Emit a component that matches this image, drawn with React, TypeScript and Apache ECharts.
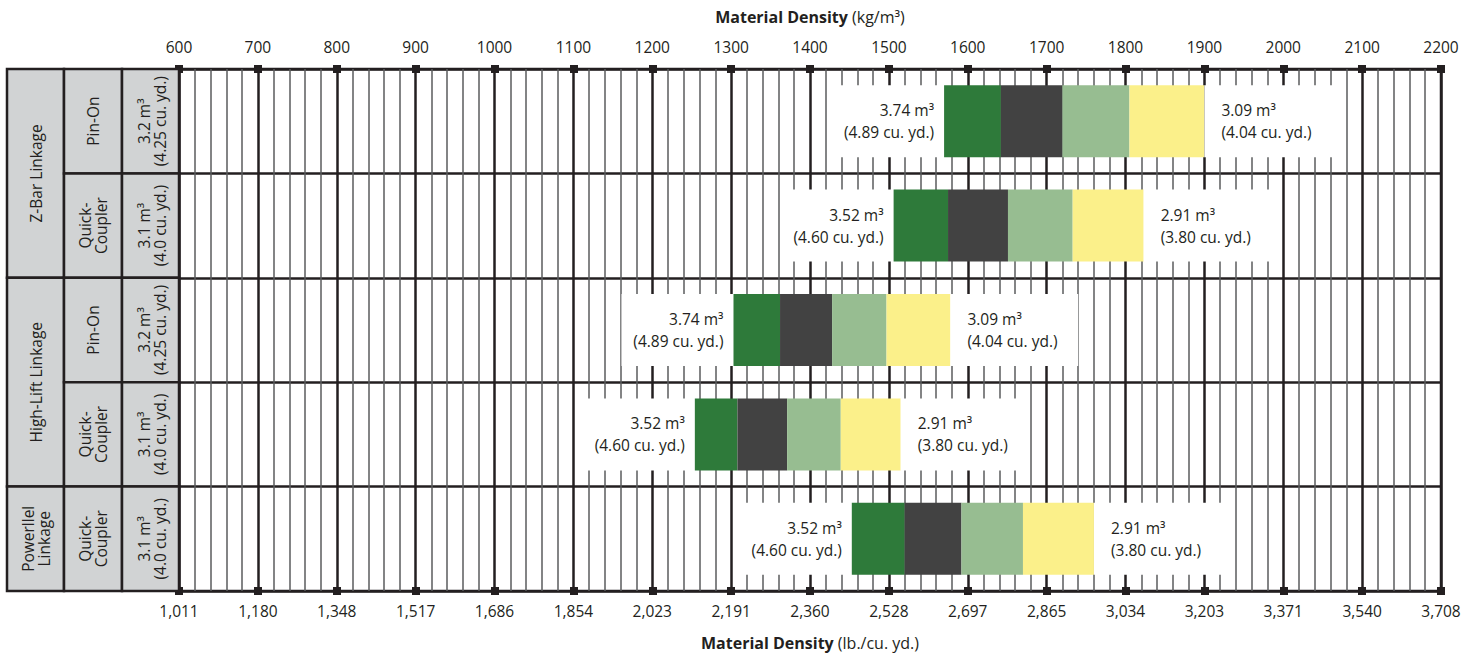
import React, { useEffect, useRef } from "react";
import * as echarts from "echarts";

// ---- data ----
const rowKeys = [
  "Z-Bar Pin-On",
  "Z-Bar Quick-Coupler",
  "High-Lift Pin-On",
  "High-Lift Quick-Coupler",
  "Powerllel Quick-Coupler",
];
const groupLabels = ["Z-Bar Linkage", "High-Lift Linkage", "Powerllel\nLinkage"];
const groupSpans = [2, 2, 1];
const typeLabels = ["Pin-On", "Quick-\nCoupler", "Pin-On", "Quick-\nCoupler", "Quick-\nCoupler"];
const capacityLabels = [
  "3.2 m³\n(4.25 cu. yd.)",
  "3.1 m³\n(4.0 cu. yd.)",
  "3.2 m³\n(4.25 cu. yd.)",
  "3.1 m³\n(4.0 cu. yd.)",
  "3.1 m³\n(4.0 cu. yd.)",
];

// density boundaries (kg/m³)
const startKg = [1570, 1506, 1303, 1254, 1453];
const darkGreenEnd = [1642, 1575, 1362, 1308, 1520];
const grayEnd = [1720, 1651, 1428, 1371, 1592];
const lightGreenEnd = [1805, 1733, 1497, 1439, 1670];
const yellowEnd = [1900, 1823, 1578, 1515, 1760];

const leftVol = ["3.74", "3.52", "3.74", "3.52", "3.52"];
const leftYd = ["4.89", "4.60", "4.89", "4.60", "4.60"];
const rightVol = ["3.09", "2.91", "3.09", "2.91", "2.91"];
const rightYd = ["4.04", "3.80", "4.04", "3.80", "3.80"];

const kgMin = 600;
const kgMax = 2200;
const kgLabels = [
  "600", "700", "800", "900", "1000", "1100", "1200", "1300", "1400",
  "1500", "1600", "1700", "1800", "1900", "2000", "2100", "2200",
];
const lbLabels = [
  "1,011", "1,180", "1,348", "1,517", "1,686", "1,854", "2,023", "2,191", "2,360",
  "2,528", "2,697", "2,865", "3,034", "3,203", "3,371", "3,540", "3,708",
];

const segColors = ["#2e7a3a", "#424242", "#97bd91", "#fbf08a"];

// label box widths (kg/m³ units)
const padLeft = 142;
const padRight = 162;

const FONT = "'Open Sans', 'Noto Sans', sans-serif";
const INK = "#231f20";

export default function App() {
  const ref = useRef<HTMLDivElement>(null);
  useEffect(() => {
    document.body.style.margin = "0";
    const chart = echarts.init(ref.current!, undefined, { renderer: "svg" });
    const H = 660;
    const gLeft = 179, gRight = 33, gTop = 69, gBottom = 69;
    const gH = H - gTop - gBottom;
    const rowH = gH / rowKeys.length;
    const tableLeft = 7;
    const col1 = 64, col2 = 122;

    const base = startKg.map((s) => s - padLeft);
    const segs = [
      startKg.map((s, i) => darkGreenEnd[i] - s),
      darkGreenEnd.map((s, i) => grayEnd[i] - s),
      grayEnd.map((s, i) => lightGreenEnd[i] - s),
      lightGreenEnd.map((s, i) => yellowEnd[i] - s),
    ];

    const labelStyle = {
      color: INK,
      fontSize: 15.5,
      lineHeight: 22,
      fontFamily: FONT,
    };

    const series: any[] = [
      {
        type: "bar",
        stack: "s",
        barWidth: 72,
        silent: true,
        itemStyle: { color: "rgba(0,0,0,0)" },
        data: base,
      },
      {
        type: "bar",
        stack: "s",
        barWidth: 72,
        silent: true,
        itemStyle: { color: "#ffffff" },
        data: rowKeys.map(() => padLeft),
        label: {
          show: true,
          position: "insideRight",
          distance: 10,
          align: "right",
          ...labelStyle,
          formatter: (p: any) => `${leftVol[p.dataIndex]} m³\n(${leftYd[p.dataIndex]} cu. yd.)`,
        },
      },
      ...segs.map((d, k) => ({
        type: "bar",
        stack: "s",
        barWidth: 72,
        silent: true,
        itemStyle: { color: segColors[k] },
        data: d,
      })),
      {
        type: "bar",
        stack: "s",
        barWidth: 72,
        silent: true,
        itemStyle: { color: "#ffffff" },
        data: rowKeys.map(() => padRight),
        label: {
          show: true,
          position: "insideLeft",
          distance: 17,
          align: "left",
          ...labelStyle,
          formatter: (p: any) => `${rightVol[p.dataIndex]} m³\n(${rightYd[p.dataIndex]} cu. yd.)`,
        },
      },
    ];

    // left table graphics
    const graphics: any[] = [];
    const cellStyle = { fill: "#d1d3d4", stroke: INK, lineWidth: 2.5 };
    const txt = (x: number, y: number, text: string) => ({
      type: "text",
      x,
      y,
      rotation: Math.PI / 2,
      style: {
        text,
        fill: INK,
        font: `15.5px ${FONT}`,
        lineHeight: 16,
        align: "center",
        verticalAlign: "middle",
      },
      z: 10,
    });
    let r0 = 0;
    groupLabels.forEach((g, gi) => {
      const span = groupSpans[gi];
      const y0 = gTop + r0 * rowH;
      graphics.push({
        type: "rect",
        shape: { x: tableLeft, y: y0, width: col1 - tableLeft, height: span * rowH },
        style: cellStyle,
        z: 5,
      });
      graphics.push(txt((tableLeft + col1) / 2, y0 + (span * rowH) / 2, g));
      r0 += span;
    });
    rowKeys.forEach((_, i) => {
      const y0 = gTop + i * rowH;
      graphics.push({
        type: "rect",
        shape: { x: col1, y: y0, width: col2 - col1, height: rowH },
        style: cellStyle,
        z: 5,
      });
      graphics.push({
        type: "rect",
        shape: { x: col2, y: y0, width: gLeft - col2, height: rowH },
        style: cellStyle,
        z: 5,
      });
      graphics.push(txt((col1 + col2) / 2, y0 + rowH / 2, typeLabels[i]));
      graphics.push(txt((col2 + gLeft) / 2 + 1, y0 + rowH / 2, capacityLabels[i]));
    });

    const axisLabel = { color: INK, fontSize: 15.5, fontFamily: FONT };
    const nameStyle = {
      color: INK,
      fontSize: 16,
      fontFamily: FONT,
      rich: { b: { fontWeight: "bold", fontSize: 16, fontFamily: FONT, color: INK } },
    };

    chart.setOption({
      animation: false,
      grid: {
        left: gLeft,
        right: gRight,
        top: gTop,
        bottom: gBottom,
        show: true,
        borderColor: INK,
        borderWidth: 2.5,
        backgroundColor: "#ffffff",
      },
      xAxis: [
        {
          type: "value",
          position: "top",
          min: kgMin,
          max: kgMax,
          interval: 100,
          offset: -4,
          axisLine: { show: false },
          axisTick: { show: true, length: 8, lineStyle: { color: INK, width: 8 } },
          minorTick: { show: false, splitNumber: 5 },
          splitLine: { show: true, lineStyle: { color: INK, width: 2.5 } },
          minorSplitLine: { show: true, lineStyle: { color: "#5a5b5d", width: 1.5 } },
          axisLabel: {
            ...axisLabel,
            margin: 18,
            formatter: (v: number) => kgLabels[Math.round((v - kgMin) / 100)] ?? "",
          },
          name: "{b|Material Density} (kg/m³)",
          nameLocation: "middle",
          nameGap: 48,
          nameTextStyle: nameStyle,
        },
        {
          type: "value",
          position: "bottom",
          min: kgMin,
          max: kgMax,
          interval: 100,
          offset: -4,
          axisLine: { show: false },
          axisTick: { show: true, length: 8, lineStyle: { color: INK, width: 8 } },
          splitLine: { show: false },
          axisLabel: {
            ...axisLabel,
            margin: 16,
            formatter: (v: number) => lbLabels[Math.round((v - kgMin) / 100)] ?? "",
          },
          name: "{b|Material Density} (lb./cu. yd.)",
          nameLocation: "middle",
          nameGap: 48,
          nameTextStyle: nameStyle,
        },
      ],
      yAxis: {
        type: "category",
        inverse: true,
        data: rowKeys,
        axisLine: { show: false },
        axisTick: { show: false },
        axisLabel: { show: false },
        splitLine: { show: true, interval: 0, lineStyle: { color: INK, width: 2.5 } },
      },
      series,
      graphic: graphics,
    });
    return () => chart.dispose();
  }, []);
  return <div ref={ref} style={{ width: 1474, height: 660 }} />;
}
